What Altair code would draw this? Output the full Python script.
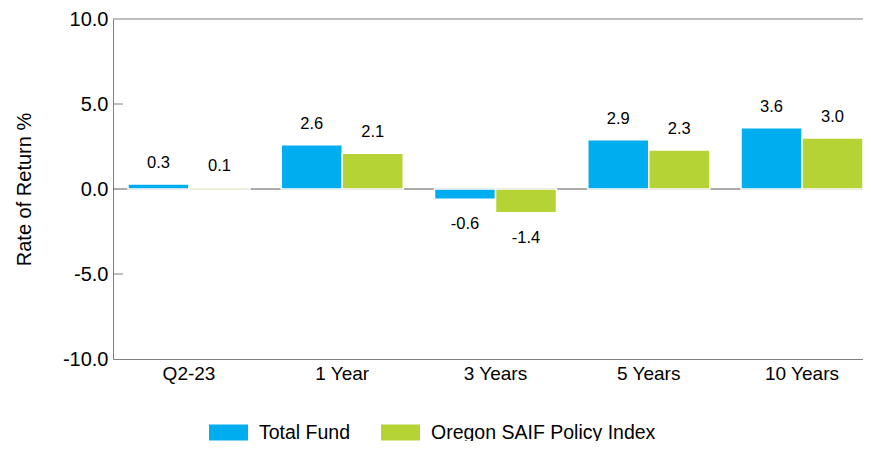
import altair as alt
import pandas as pd

categories = ["Q2-23", "1 Year", "3 Years", "5 Years", "10 Years"]
total_fund = [0.3, 2.6, -0.6, 2.9, 3.6]
policy_index = [0.1, 2.1, -1.4, 2.3, 3.0]
series_names = ["Total Fund", "Oregon SAIF Policy Index"]
colors = ["#00AEEF", "#B5D334"]
y_ticks = [-10, -5, 0, 5, 10]
inner_ticks = [5, -5]

rows = []
for i, c in enumerate(categories):
    rows.append({"cat": c, "series": series_names[0], "value": total_fund[i]})
    rows.append({"cat": c, "series": series_names[1], "value": policy_index[i]})
df = pd.DataFrame(rows)

FONT = "Liberation Sans"
MINUS = "\u2212"

x = alt.X(
    "cat:N",
    sort=categories,
    scale=alt.Scale(paddingInner=0.204, paddingOuter=0.049, align=1.0),
    axis=alt.Axis(title=None, labelFontSize=19, labelPadding=5, ticks=False,
                  domainColor="#808080", labelAngle=0, labelColor="#000000"),
)
x_off = alt.XOffset("series:N", sort=series_names,
                    scale=alt.Scale(paddingInner=0, paddingOuter=0))
y = alt.Y(
    "value:Q",
    scale=alt.Scale(domain=[-10, 10], nice=False),
    axis=alt.Axis(values=y_ticks,
                  labelExpr=f"replace(format(datum.value, '.1f'), '{MINUS}', '-')",
                  title="Rate of Return %",
                  ticks=False, grid=False, domainColor="#808080",
                  labelFontSize=20, labelPadding=5, labelColor="#000000",
                  titleFontSize=20, titleFontWeight="normal", titleColor="#000000",
                  titleX=-83, titleY=170, titleAlign="center",
                  titleBaseline="alphabetic", titleAngle=270),
)

top_line = alt.Chart(pd.DataFrame({"value": [10]})).mark_rule(
    color="#808080", strokeWidth=1).encode(y=alt.Y("value:Q"))
zero_line = alt.Chart(pd.DataFrame({"value": [0]})).mark_rule(
    color="#595959", strokeWidth=1).encode(y=alt.Y("value:Q"))
tick_marks = alt.Chart(pd.DataFrame({"value": inner_ticks})).mark_rule(
    color="#808080", strokeWidth=1).encode(
    y=alt.Y("value:Q"), x=alt.value(0), x2=alt.value(10))

bars = alt.Chart(df).mark_bar(stroke="white", strokeWidth=1.5).encode(
    x=x, xOffset=x_off, y=y,
    color=alt.Color(
        "series:N", sort=series_names,
        scale=alt.Scale(domain=series_names, range=colors),
        legend=alt.Legend(
            title=None, orient="none", legendX=96, legendY=394,
            direction="horizontal",
            symbolType="M-1,-0.41H1V0.41H-1Z", symbolSize=1521,
            symbolStrokeWidth=0, symbolOpacity=1,
            labelFontSize=19.5, labelOffset=11, columnPadding=30,
            labelLimit=0, labelColor="#000000", padding=0,
        ),
    ),
)

label_expr = f"replace(format(datum.value, '.1f'), '{MINUS}', '-')"
labels = alt.Chart(df).transform_calculate(lbl=label_expr)
pos_labels = labels.transform_filter("datum.value >= 0").mark_text(
    dy=-16, baseline="alphabetic", fontSize=16.5, color="#000000").encode(
    x=x, xOffset=x_off, y=y, text="lbl:N")
neg_labels = labels.transform_filter("datum.value < 0").mark_text(
    dy=30, baseline="alphabetic", fontSize=16.5, color="#000000").encode(
    x=x, xOffset=x_off, y=y, text="lbl:N")

chart = alt.layer(top_line, zero_line, tick_marks, bars, pos_labels, neg_labels).properties(
    width=750, height=340,
    padding={"left": 105, "top": 11, "right": 0, "bottom": 82},
    autosize=alt.AutoSizeParams(type="none"),
).configure(font=FONT).configure_view(stroke=None)

chart.save("out.html", embed_options={"renderer": "svg", "actions": False})
